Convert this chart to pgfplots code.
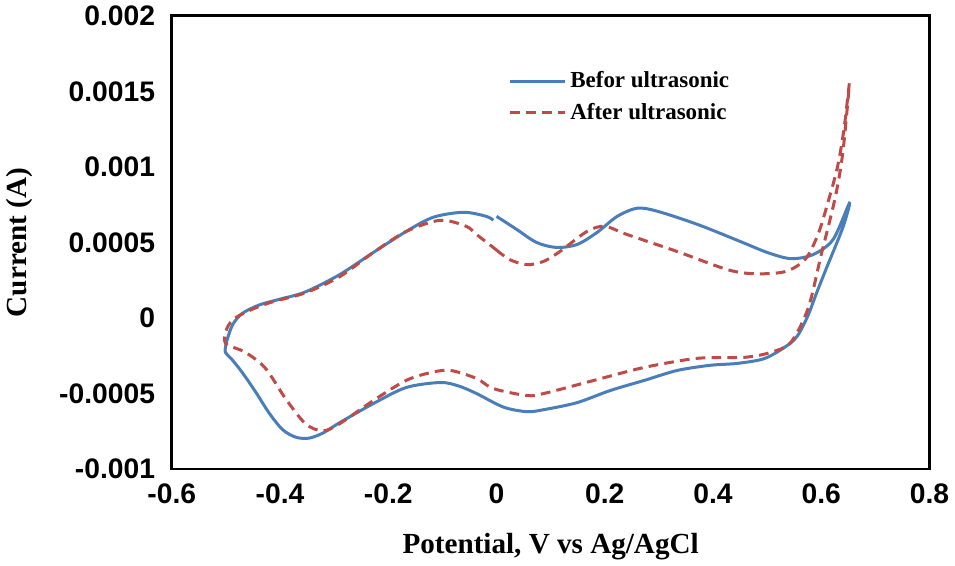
\documentclass[border=0pt]{standalone}
\usepackage{pgfplots}
\pgfplotsset{compat=1.18}
\usepackage{fontspec}
\setmainfont{Liberation Serif}
\newfontfamily\arialfont{Liberation Sans}
\definecolor{cvblue}{RGB}{74,126,187}
\definecolor{cvred}{RGB}{190,75,72}

\begin{document}
\begin{tikzpicture}
\begin{axis}[
  scale only axis,
  width=15.08cm, height=9.02cm,
  xmin=-0.6, xmax=0.8,
  ymin=-0.001, ymax=0.002,
  xtick={-0.6,-0.4,...,0.8},
  ytick={-0.001,-0.0005,0,0.0005,0.001,0.0015,0.002},
  scaled y ticks=false, scaled x ticks=false,
  major tick length=0pt,
  axis line style={line width=1.6pt},
  /pgf/number format/assume math mode=true,
  xticklabel style={font=\arialfont\bfseries\fontsize{16}{18}\selectfont, /pgf/number format/fixed, yshift=-5pt},
  yticklabel style={font=\arialfont\bfseries\fontsize{16}{18}\selectfont, /pgf/number format/fixed, /pgf/number format/precision=4, xshift=-6pt},
  xlabel={Potential, V vs Ag/AgCl},
  ylabel={Current (A)},
  xlabel style={font=\bfseries\fontsize{16.5}{18}\selectfont, at={(axis description cs:0.5,-0.171)}, anchor=center},
  ylabel style={font=\bfseries\fontsize{16.5}{18}\selectfont, at={(axis description cs:-0.2016,0.5)}, anchor=center},
  legend style={draw=none, fill=none, at={(0.437,0.893)}, anchor=north west,
    font=\bfseries\fontsize{13}{15}\selectfont, row sep=3pt},
  legend cell align=left,
  legend image code/.code={\draw[#1] (0cm,0cm) -- (1.1cm,0cm);},
]
% ---- before ultrasonic ----
\addplot[cvblue, line width=1.7pt, smooth, tension=0.5] coordinates {
(0.000,0.000673) (0.037,0.000587) (0.074,0.000500) (0.111,0.000467)
(0.149,0.000487) (0.186,0.000567) (0.223,0.000673) (0.260,0.000727)
(0.297,0.000707) (0.371,0.000620) (0.446,0.000513) (0.501,0.000433)
(0.544,0.000393) (0.585,0.000420) (0.622,0.000520) (0.652,0.000760)
(0.640,0.000600) (0.607,0.000307) (0.590,0.000153) (0.576,0.000020)
(0.557,-0.000113) (0.538,-0.000180) (0.496,-0.000267) (0.446,-0.000300)
(0.395,-0.000313) (0.334,-0.000347) (0.273,-0.000413) (0.210,-0.000480)
(0.149,-0.000560) (0.087,-0.000607) (0.056,-0.000620) (0.013,-0.000590)
(-0.037,-0.000500) (-0.070,-0.000450) (-0.104,-0.000427) (-0.167,-0.000460)
(-0.228,-0.000567) (-0.290,-0.000693) (-0.320,-0.000760) (-0.346,-0.000795)
(-0.370,-0.000790) (-0.395,-0.000740) (-0.420,-0.000630) (-0.445,-0.000490)
(-0.470,-0.000360) (-0.490,-0.000270) (-0.501,-0.000227)
(-0.499,-0.000160) (-0.488,-0.000047) (-0.470,0.000030) (-0.438,0.000087)
(-0.400,0.000125) (-0.353,0.000173) (-0.290,0.000287) (-0.228,0.000433)
(-0.167,0.000573) (-0.117,0.000667) (-0.061,0.000700) (-0.019,0.000673)
(-0.006,0.000647)
};
\addlegendentry{Befor ultrasonic}
% ---- after ultrasonic ----
\addplot[cvred, line width=1.7pt, dash pattern=on 5.5pt off 3.5pt, smooth, tension=0.5] coordinates {
(0.000,0.000450) (0.024,0.000387) (0.056,0.000353) (0.087,0.000375)
(0.117,0.000440) (0.167,0.000573) (0.200,0.000607) (0.241,0.000553)
(0.334,0.000440) (0.427,0.000320) (0.477,0.000293) (0.533,0.000307)
(0.570,0.000387) (0.594,0.000553) (0.613,0.000773) (0.630,0.001000)
(0.642,0.001250) (0.652,0.001553) (0.640,0.001100) (0.626,0.000800)
(0.600,0.000420) (0.576,0.000067) (0.544,-0.000160) (0.507,-0.000227)
(0.459,-0.000260) (0.371,-0.000267) (0.273,-0.000327) (0.180,-0.000413)
(0.087,-0.000500) (0.056,-0.000513) (-0.006,-0.000467) (-0.037,-0.000400)
(-0.085,-0.000347) (-0.120,-0.000360) (-0.167,-0.000413) (-0.228,-0.000547)
(-0.290,-0.000700) (-0.321,-0.000747) (-0.353,-0.000700) (-0.390,-0.000533)
(-0.427,-0.000333) (-0.464,-0.000227) (-0.501,-0.000167) (-0.498,-0.000067)
(-0.483,0.000000) (-0.450,0.000060) (-0.414,0.000107) (-0.353,0.000167)
(-0.290,0.000273) (-0.228,0.000433) (-0.167,0.000573) (-0.104,0.000647)
(-0.056,0.000607) (-0.037,0.000553) (0.000,0.000450)
};
\addlegendentry{After ultrasonic}
\end{axis}
\end{tikzpicture}
\end{document}
